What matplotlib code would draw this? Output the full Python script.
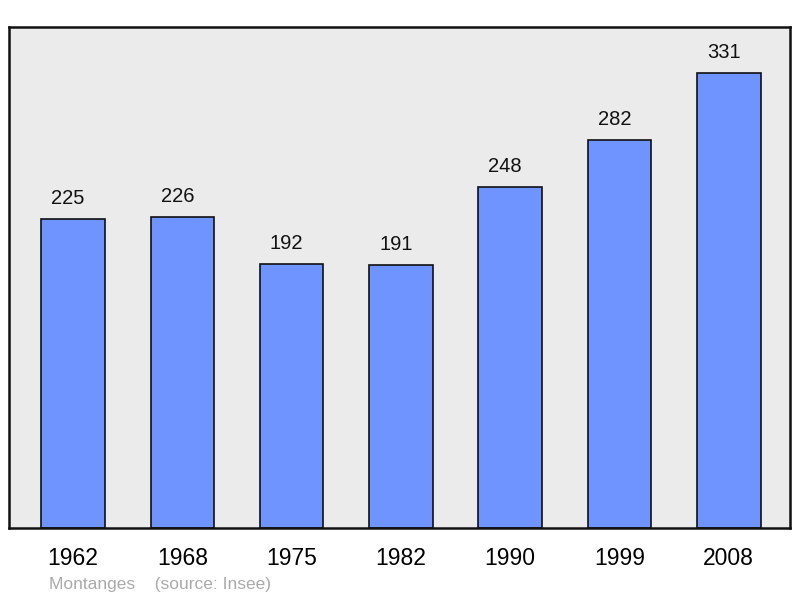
import matplotlib
matplotlib.use("Agg")
import matplotlib.pyplot as plt

# population data
years = ["1962", "1968", "1975", "1982", "1990", "1999", "2008"]
population = [225, 226, 192, 191, 248, 282, 331]

plt.rcParams['font.family'] = ['Liberation Sans', 'DejaVu Sans']

fig = plt.figure(figsize=(8.0, 5.98), dpi=100)
ax = fig.add_axes([0.01125, 0.117, 0.976, 0.838])
ax.set_facecolor('#ebebeb')

x = range(len(years))
bars = ax.bar(x, population, width=0.58, color='#7094ff', edgecolor='#111111', linewidth=1.2)

for xi, v in zip(x, population):
    ax.annotate(str(v), xy=(xi, v), xytext=(-3.6, 8), textcoords='offset points',
                ha='center', va='bottom', fontsize=14.5, color='#111111')

ax.set_xlim(-0.585, 6.558)
ax.set_ylim(0, 364.5)
ax.set_xticks(list(x))
ax.set_xticklabels(years, fontsize=16.5)
ax.tick_params(axis='x', length=0, pad=14)
ax.set_yticks([])
for s in ax.spines.values():
    s.set_linewidth(1.8)
    s.set_color('#111111')

fig.text(49 / 800, 1 - 584 / 598, "Montanges    (source: Insee)", fontsize=12.5,
         color='#aaaaaa', ha='left', va='center')

fig.savefig('out.png', dpi=100)
